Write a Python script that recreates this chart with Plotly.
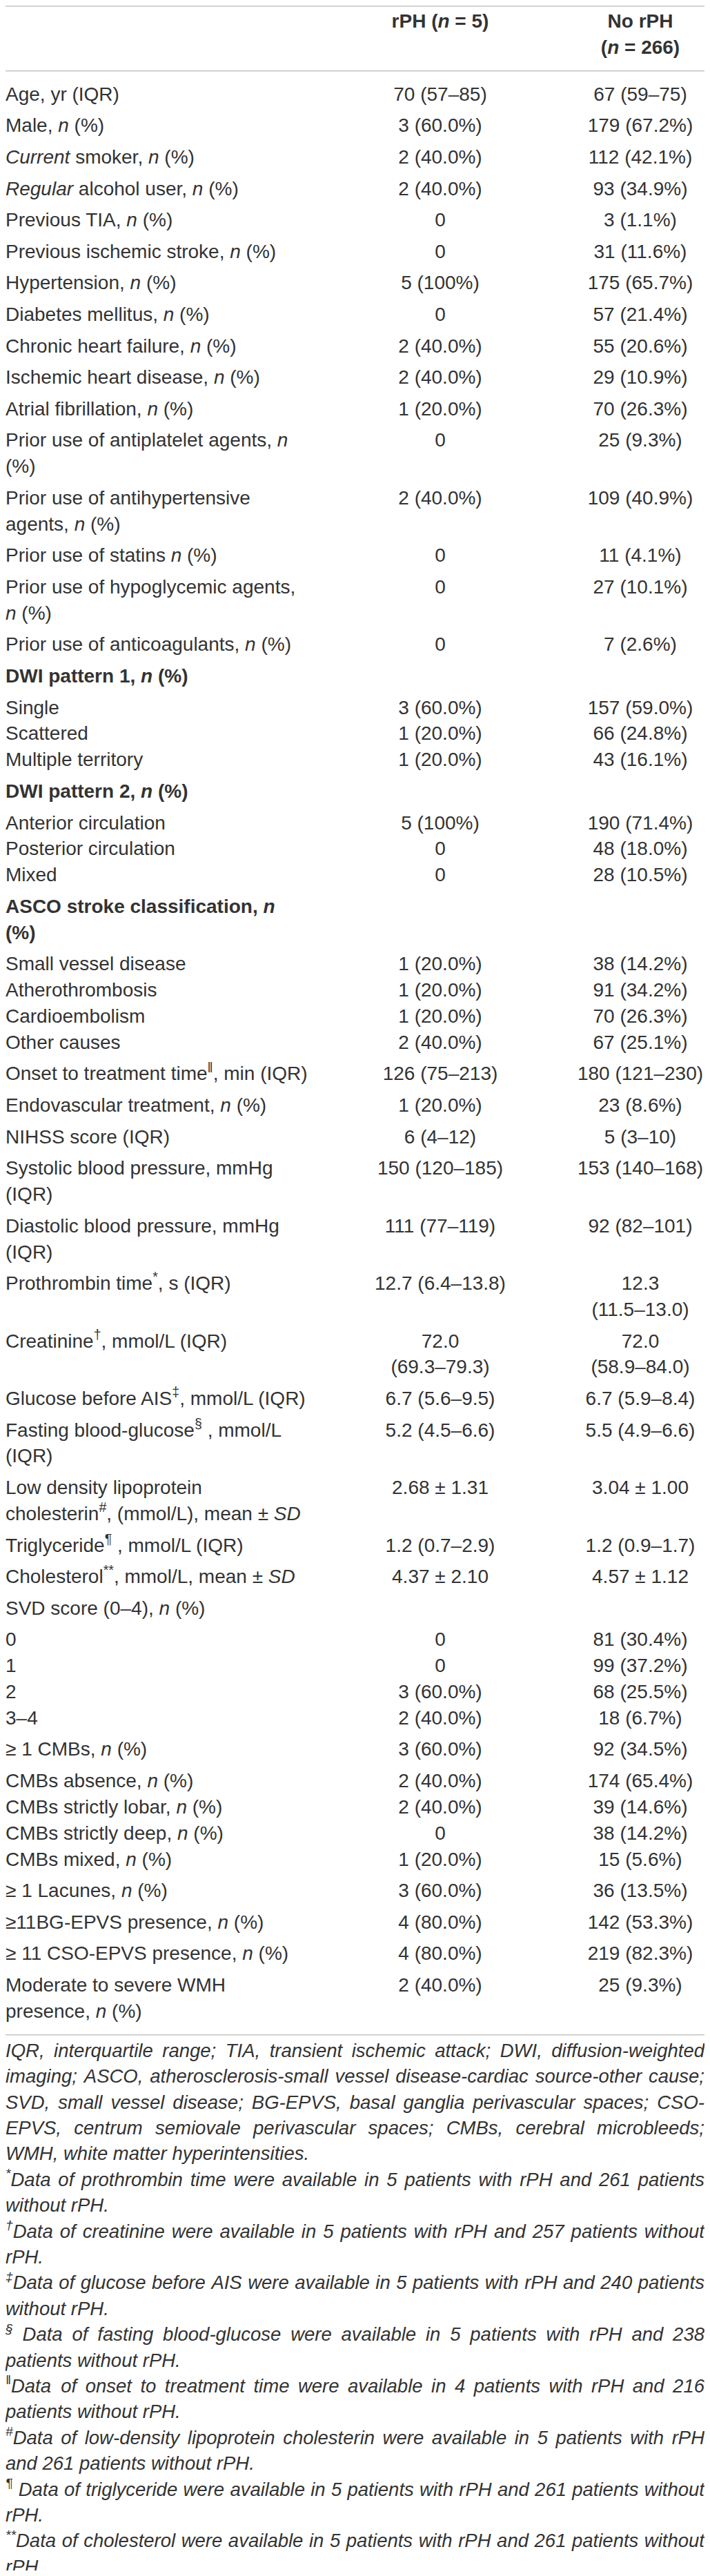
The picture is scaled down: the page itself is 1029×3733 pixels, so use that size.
import re
import plotly.graph_objects as go

# column headers
col_headers = ["<b>rPH (<i>n</i> = 5)</b>", "<b>No rPH</b><br><b>(<i>n</i> = 266)</b>"]

# row labels; <br> separates lines that share one row block
labels = [
    "Age, yr (IQR)",
    "Male, <i>n</i> (%)",
    "<i>Current</i> smoker, <i>n</i> (%)",
    "<i>Regular</i> alcohol user, <i>n</i> (%)",
    "Previous TIA, <i>n</i> (%)",
    "Previous ischemic stroke, <i>n</i> (%)",
    "Hypertension, <i>n</i> (%)",
    "Diabetes mellitus, <i>n</i> (%)",
    "Chronic heart failure, <i>n</i> (%)",
    "Ischemic heart disease, <i>n</i> (%)",
    "Atrial fibrillation, <i>n</i> (%)",
    "Prior use of antiplatelet agents, <i>n</i><br>(%)",
    "Prior use of antihypertensive<br>agents, <i>n</i> (%)",
    "Prior use of statins <i>n</i> (%)",
    "Prior use of hypoglycemic agents,<br><i>n</i> (%)",
    "Prior use of anticoagulants, <i>n</i> (%)",
    "<b>DWI pattern 1, <i>n</i> (%)</b>",
    "Single<br>Scattered<br>Multiple territory",
    "<b>DWI pattern 2, <i>n</i> (%)</b>",
    "Anterior circulation<br>Posterior circulation<br>Mixed",
    "<b>ASCO stroke classification, <i>n</i></b><br><b>(%)</b>",
    "Small vessel disease<br>Atherothrombosis<br>Cardioembolism<br>Other causes",
    "Onset to treatment time<sup>‖</sup>, min (IQR)",
    "Endovascular treatment, <i>n</i> (%)",
    "NIHSS score (IQR)",
    "Systolic blood pressure, mmHg<br>(IQR)",
    "Diastolic blood pressure, mmHg<br>(IQR)",
    "Prothrombin time<sup>*</sup>, s (IQR)",
    "Creatinine<sup>†</sup>, mmol/L (IQR)",
    "Glucose before AIS<sup>‡</sup>, mmol/L (IQR)",
    "Fasting blood-glucose<sup>§</sup> , mmol/L<br>(IQR)",
    "Low density lipoprotein<br>cholesterin<sup>#</sup>, (mmol/L), mean ± <i>SD</i>",
    "Triglyceride<sup>¶</sup> , mmol/L (IQR)",
    "Cholesterol<sup>**</sup>, mmol/L, mean ± <i>SD</i>",
    "SVD score (0–4), <i>n</i> (%)",
    "0<br>1<br>2<br>3–4",
    "≥ 1 CMBs, <i>n</i> (%)",
    "CMBs absence, <i>n</i> (%)<br>CMBs strictly lobar, <i>n</i> (%)<br>"
    "CMBs strictly deep, <i>n</i> (%)<br>CMBs mixed, <i>n</i> (%)",
    "≥ 1 Lacunes, <i>n</i> (%)",
    "≥11BG-EPVS presence, <i>n</i> (%)",
    "≥ 11 CSO-EPVS presence, <i>n</i> (%)",
    "Moderate to severe WMH<br>presence, <i>n</i> (%)",
]

rph = [
    "70 (57–85)", "3 (60.0%)", "2 (40.0%)", "2 (40.0%)", "0", "0", "5 (100%)", "0",
    "2 (40.0%)", "2 (40.0%)", "1 (20.0%)", "0", "2 (40.0%)", "0", "0", "0",
    "", "3 (60.0%)<br>1 (20.0%)<br>1 (20.0%)",
    "", "5 (100%)<br>0<br>0",
    "", "1 (20.0%)<br>1 (20.0%)<br>1 (20.0%)<br>2 (40.0%)",
    "126 (75–213)", "1 (20.0%)", "6 (4–12)", "150 (120–185)", "111 (77–119)",
    "12.7 (6.4–13.8)", "72.0<br>(69.3–79.3)", "6.7 (5.6–9.5)", "5.2 (4.5–6.6)",
    "2.68 ± 1.31", "1.2 (0.7–2.9)", "4.37 ± 2.10",
    "", "0<br>0<br>3 (60.0%)<br>2 (40.0%)",
    "3 (60.0%)", "2 (40.0%)<br>2 (40.0%)<br>0<br>1 (20.0%)",
    "3 (60.0%)", "4 (80.0%)", "4 (80.0%)", "2 (40.0%)",
]

no_rph = [
    "67 (59–75)", "179 (67.2%)", "112 (42.1%)", "93 (34.9%)", "3 (1.1%)", "31 (11.6%)",
    "175 (65.7%)", "57 (21.4%)", "55 (20.6%)", "29 (10.9%)", "70 (26.3%)", "25 (9.3%)",
    "109 (40.9%)", "11 (4.1%)", "27 (10.1%)", "7 (2.6%)",
    "", "157 (59.0%)<br>66 (24.8%)<br>43 (16.1%)",
    "", "190 (71.4%)<br>48 (18.0%)<br>28 (10.5%)",
    "", "38 (14.2%)<br>91 (34.2%)<br>70 (26.3%)<br>67 (25.1%)",
    "180 (121–230)", "23 (8.6%)", "5 (3–10)", "153 (140–168)", "92 (82–101)",
    "12.3<br>(11.5–13.0)", "72.0<br>(58.9–84.0)", "6.7 (5.9–8.4)", "5.5 (4.9–6.6)",
    "3.04 ± 1.00", "1.2 (0.9–1.7)", "4.57 ± 1.12",
    "", "81 (30.4%)<br>99 (37.2%)<br>68 (25.5%)<br>18 (6.7%)",
    "92 (34.5%)", "174 (65.4%)<br>39 (14.6%)<br>38 (14.2%)<br>15 (5.6%)",
    "36 (13.5%)", "142 (53.3%)", "219 (82.3%)", "25 (9.3%)",
]

footnotes = [
    "IQR, interquartile range; TIA, transient ischemic attack; DWI, diffusion-weighted<br>"
    "imaging; ASCO, atherosclerosis-small vessel disease-cardiac source-other cause;<br>"
    "SVD, small vessel disease; BG-EPVS, basal ganglia perivascular spaces; CSO-<br>"
    "EPVS, centrum semiovale perivascular spaces; CMBs, cerebral microbleeds;<br>"
    "WMH, white matter hyperintensities.",
    "<sup>*</sup>Data of prothrombin time were available in 5 patients with rPH and 261 patients<br>without rPH.",
    "<sup>†</sup>Data of creatinine were available in 5 patients with rPH and 257 patients without<br>rPH.",
    "<sup>‡</sup>Data of glucose before AIS were available in 5 patients with rPH and 240 patients<br>without rPH.",
    "<sup>§</sup> Data of fasting blood-glucose were available in 5 patients with rPH and 238<br>patients without rPH.",
    "<sup>‖</sup>Data of onset to treatment time were available in 4 patients with rPH and 216<br>patients without rPH.",
    "<sup>#</sup>Data of low-density lipoprotein cholesterin were available in 5 patients with rPH<br>and 261 patients without rPH.",
    "<sup>¶</sup> Data of triglyceride were available in 5 patients with rPH and 261 patients without<br>rPH.",
    "<sup>**</sup>Data of cholesterol were available in 5 patients with rPH and 261 patients without<br>rPH.",
]

# page is 1029 x 3733; the html body keeps an 8 px margin, so the figure is
# 16 px smaller and the axes are set so that data units equal page pixels
PAGE_W, PAGE_H, PAD = 1029, 3733, 8
FIG_W, FIG_H = PAGE_W - 2 * PAD, PAGE_H - 2 * PAD
LEFT, RIGHT = PAD, PAGE_W - PAD

FONT = "Liberation Sans, Arial, Helvetica, sans-serif"
INK = "#333333"
RULE = "#c4c4c4"
SIZE = 28
FN_SIZE = 27.5
LINE = 37.85        # pitch of lines inside one row block
ROW_GAP = 7.75      # extra space between row blocks
COL_X = [638, 928]  # centres of the two value columns

# approximate Arial advance widths (1/1000 em), used to justify the footnotes
_w = {" ": 278, ",": 278, ".": 278, ";": 278, "-": 333, "*": 389, "#": 556,
      "(": 333, ")": 333, "/": 278}
_w.update({c: 556 for c in "0123456789abdeghnopqu†‡§"})
_w.update({c: 500 for c in "cksvxyz"})
_w.update({c: 222 for c in "ijl"})
_w.update({"f": 278, "t": 278, "r": 333, "m": 833, "w": 722, "¶": 537, "‖": 500})
_w.update(dict(zip("ABCDEFGHIJKLMNOPQRSTUVWXYZ",
                   [667, 667, 722, 722, 667, 611, 778, 722, 278, 500, 667, 556, 833,
                    722, 778, 667, 778, 722, 667, 611, 722, 667, 944, 667, 667, 611])))


def text_width(s, size):
    total = 0.0
    for part in re.split(r"(<sup>.*?</sup>)", s):
        scale = 0.7 if part.startswith("<sup>") else 1.0
        plain = re.sub(r"<[^>]+>", "", part)
        total += sum(_w.get(c, 556) for c in plain) * scale
    return total * size / 1000.0


# header lines
head_top = PAD + 1
head_first = 33
head_rows = [h.split("<br>") for h in col_headers]
head_x, head_y, head_t = [], [], []
for cx, lines in zip(COL_X, head_rows):
    for k, t in enumerate(lines):
        head_x.append(cx)
        head_y.append(head_first + k * LINE)
        head_t.append(t)
head_bottom = head_first + (max(len(h) for h in head_rows) - 1) * LINE + 32

# body lines, stacked block by block
lab_x, lab_y, lab_t = [], [], []
v_x, v_y, v_t = [], [], []
y = head_bottom + 36
for lab, a, b in zip(labels, rph, no_rph):
    cells = [lab.split("<br>"), a.split("<br>") if a else [], b.split("<br>") if b else []]
    for k, t in enumerate(cells[0]):
        lab_x.append(LEFT)
        lab_y.append(y + k * LINE)
        lab_t.append(t)
    for cx, lines in zip(COL_X, cells[1:]):
        for k, t in enumerate(lines):
            v_x.append(cx)
            v_y.append(y + k * LINE)
            v_t.append(t)
    n = max(len(c) for c in cells)
    y += n * LINE + ROW_GAP
body_bottom = y - ROW_GAP - LINE + 32

# footnotes: justified lines, last line of each note left aligned
FN_LINE = 37.4
fl_x, fl_y, fl_t = [], [], []   # left-anchored words
fr_x, fr_y, fr_t = [], [], []   # right-anchored last words of justified lines
row = 0
for note in footnotes:
    lines = note.split("<br>")
    for k, ln in enumerate(lines):
        fy = body_bottom + 25 + row * FN_LINE
        row += 1
        if k == len(lines) - 1:
            fl_x.append(LEFT)
            fl_y.append(fy)
            fl_t.append("<i>" + ln + "</i>")
            continue
        words = ln.split(" ")
        widths = [text_width(wd, FN_SIZE) for wd in words]
        gap = (RIGHT - LEFT - sum(widths)) / (len(words) - 1)
        x = LEFT
        for i, wd in enumerate(words):
            if i == len(words) - 1:
                fr_x.append(RIGHT)
                fr_y.append(fy)
                fr_t.append("<i>" + wd + "</i>")
            else:
                fl_x.append(x)
                fl_y.append(fy)
                fl_t.append("<i>" + wd + "</i>")
            x += widths[i] + gap

fig = go.Figure()
fig.add_trace(go.Scatter(x=head_x, y=head_y, text=head_t, mode="text",
                         textposition="middle center",
                         textfont=dict(family=FONT, size=SIZE, color=INK)))
fig.add_trace(go.Scatter(x=lab_x, y=lab_y, text=lab_t, mode="text",
                         textposition="middle right",
                         textfont=dict(family=FONT, size=SIZE, color=INK)))
fig.add_trace(go.Scatter(x=v_x, y=v_y, text=v_t, mode="text",
                         textposition="middle center",
                         textfont=dict(family=FONT, size=SIZE, color=INK)))
fig.add_trace(go.Scatter(x=fl_x, y=fl_y, text=fl_t, mode="text",
                         textposition="middle right",
                         textfont=dict(family=FONT, size=FN_SIZE, color=INK)))
fig.add_trace(go.Scatter(x=fr_x, y=fr_y, text=fr_t, mode="text",
                         textposition="middle left",
                         textfont=dict(family=FONT, size=FN_SIZE, color=INK)))
fig.update_traces(hoverinfo="skip", cliponaxis=False)

for ry in [head_top, head_bottom, body_bottom]:
    fig.add_shape(type="line", xref="x", yref="y", x0=LEFT, x1=RIGHT, y0=ry, y1=ry,
                  line=dict(color=RULE, width=1.5))

fig.update_layout(
    width=FIG_W, height=FIG_H,
    margin=dict(l=0, r=0, t=0, b=0),
    paper_bgcolor="white", plot_bgcolor="white",
    showlegend=False,
    xaxis=dict(range=[LEFT, RIGHT], visible=False, fixedrange=True),
    yaxis=dict(range=[PAGE_H - PAD, PAD], visible=False, fixedrange=True),
)

fig.write_html("out.html")
